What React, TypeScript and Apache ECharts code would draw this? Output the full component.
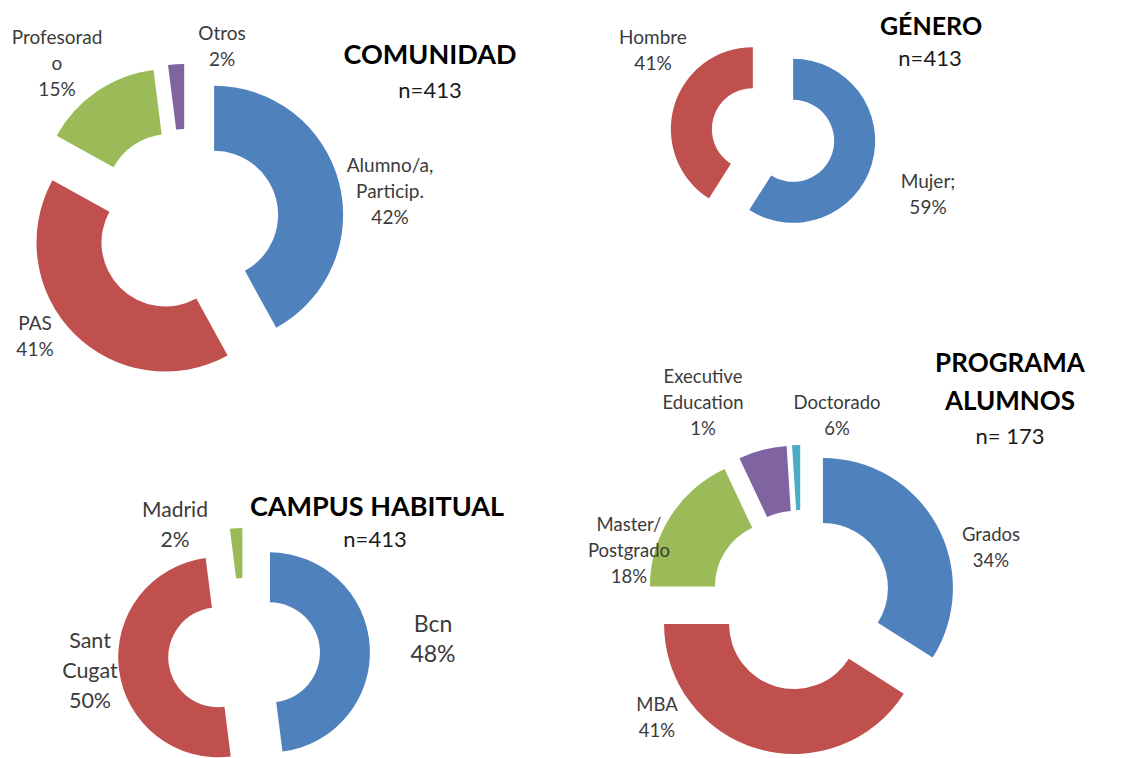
import React, { useEffect, useRef } from 'react';
import * as echarts from 'echarts';

const BLUE = '#4F81BD';
const RED = '#C0504D';
const GREEN = '#9BBB59';
const PURPLE = '#8064A2';
const CYAN = '#4BACC6';

// COMUNIDAD
const comunidadCategories = ['Alumno/a,\nParticip.', 'PAS', 'Profesorad\no', 'Otros'];
const comunidadValues = [42, 41, 15, 2];
const comunidadColors = [BLUE, RED, GREEN, PURPLE];

// GÉNERO
const generoCategories = ['Mujer', 'Hombre'];
const generoSeparators = [';\n', '\n'];
const generoValues = [59, 41];
const generoColors = [BLUE, RED];

// CAMPUS HABITUAL
const campusCategories = ['Bcn', 'Sant\nCugat', 'Madrid'];
const campusValues = [48, 50, 2];
const campusColors = [BLUE, RED, GREEN];

// PROGRAMA ALUMNOS
const programaCategories = ['Grados', 'MBA', 'Master/\nPostgrado', 'Doctorado', 'Executive\nEducation'];
const programaValues = [34, 41, 18, 6, 1];
const programaColors = [BLUE, RED, GREEN, PURPLE, CYAN];

const FONT = 'Lato';
const LABEL_COLOR = '#3b3b3b';

type PieCfg = {
  names: string[];
  values: number[];
  colors: string[];
  seps?: string[];
  center: [number, number];
  radius: [number, number];
  offset: number;
  labelPos: [number, number][];
  fontSizes: number[];
  lineHeights: number[];
};

function makePie(cfg: PieCfg) {
  return {
    type: 'pie',
    center: cfg.center,
    radius: cfg.radius,
    startAngle: 90,
    clockwise: true,
    selectedMode: 'multiple',
    selectedOffset: cfg.offset,
    avoidLabelOverlap: false,
    emphasis: { disabled: true },
    label: { show: false },
    labelLine: { show: false },
    data: cfg.names.map((n, i) => ({
      name: n,
      value: cfg.values[i],
      selected: true,
      itemStyle: { color: cfg.colors[i] },
    })),
  };
}

function makeLabels(cfg: PieCfg) {
  return cfg.names.map((n, i) => ({
    type: 'text',
    x: cfg.labelPos[i][0],
    y: cfg.labelPos[i][1],
    z: 100,
    silent: true,
    style: {
      text: n + (cfg.seps ? cfg.seps[i] : '\n') + cfg.values[i] + '%',
      fontFamily: FONT,
      fontSize: cfg.fontSizes[i],
      lineHeight: cfg.lineHeights[i],
      fill: LABEL_COLOR,
      textAlign: 'center',
      textVerticalAlign: 'middle',
    },
  }));
}

function titleText(text: string, x: number, y: number, size: number, bold: boolean) {
  return {
    type: 'text',
    x,
    y,
    z: 100,
    silent: true,
    style: {
      text,
      fontFamily: FONT,
      fontSize: size,
      fontWeight: bold ? 'bold' : 'normal',
      fill: bold ? '#000000' : '#1a1a1a',
      textAlign: 'center',
      textVerticalAlign: 'middle',
    },
  };
}

const pies: PieCfg[] = [
  {
    names: comunidadCategories,
    values: comunidadValues,
    colors: comunidadColors,
    center: [186, 222],
    radius: [64, 129],
    offset: 29,
    labelPos: [[390, 190], [35, 335], [57, 62], [222, 45]],
    fontSizes: [19, 19, 19, 19],
    lineHeights: [26, 26, 26, 26],
  },
  {
    names: generoCategories,
    values: generoValues,
    colors: generoColors,
    seps: generoSeparators,
    center: [773, 135],
    radius: [41, 82],
    offset: 21,
    labelPos: [[928, 193], [653, 49]],
    fontSizes: [19, 19],
    lineHeights: [26, 26],
  },
  {
    names: campusCategories,
    values: campusValues,
    colors: campusColors,
    center: [244, 654],
    radius: [50, 100],
    offset: 26,
    labelPos: [[433, 638], [90, 670], [175, 523]],
    fontSizes: [23, 21.5, 21],
    lineHeights: [30, 30, 30],
  },
  {
    names: programaCategories,
    values: programaValues,
    colors: programaColors,
    center: [801, 600],
    radius: [65, 130],
    offset: 25,
    labelPos: [[991, 547], [657, 717], [629, 550], [837, 415], [703, 402]],
    fontSizes: [18.5, 18.5, 18.5, 18.5, 18.5],
    lineHeights: [26, 26, 26, 26, 26],
  },
];

export default function App() {
  const ref = useRef<HTMLDivElement>(null);

  useEffect(() => {
    if (!ref.current) return;
    const chart = echarts.init(ref.current, null, { renderer: 'svg' });
    chart.setOption({
      animation: false,
      backgroundColor: '#ffffff',
      series: pies.map(makePie),
      graphic: [
        ...pies.flatMap(makeLabels),
        titleText('COMUNIDAD', 430, 53, 27, true),
        titleText('n=413', 430, 89, 22, false),
        titleText('GÉNERO', 931, 25, 25, true),
        titleText('n=413', 930, 57, 22, false),
        titleText('CAMPUS HABITUAL', 377, 505, 27, true),
        titleText('n=413', 375, 538, 22, false),
        titleText('PROGRAMA', 1010, 362, 26, true),
        titleText('ALUMNOS', 1010, 400, 26, true),
        titleText('n= 173', 1010, 435, 22, false),
      ],
    });
    return () => chart.dispose();
  }, []);

  return (
    <div
      ref={ref}
      style={{ position: 'fixed', left: 0, top: 0, width: 1131, height: 758, background: '#ffffff' }}
    />
  );
}
